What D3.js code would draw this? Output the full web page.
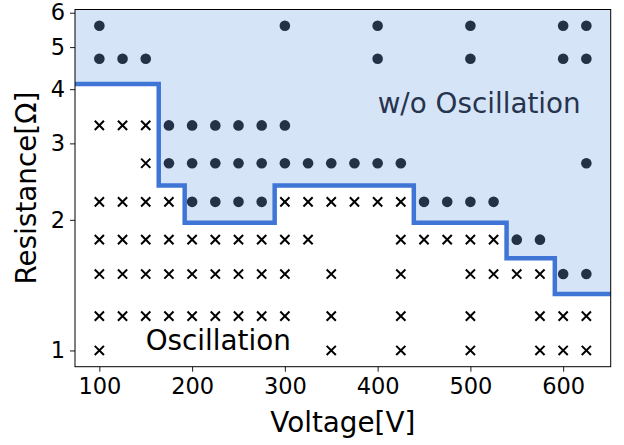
<!DOCTYPE html>
<html>
<head>
<meta charset="utf-8">
<script src="https://cdn.jsdelivr.net/npm/d3@7"></script>
<style>
  html, body { margin: 0; padding: 0; background: #fff; }
  svg { display: block; font-family: "DejaVu Sans", sans-serif; }
</style>
</head>
<body>
<svg id="chart" width="624" height="445"></svg>
<script>
// Measured operating points: each row is one resistance setting,
// listing the voltages that oscillated and those that stayed stable.
const xTicks = [100, 200, 300, 400, 500, 600];
const yTicks = [1, 2, 3, 4, 5, 6];

const oscillationRows = [
  { r: 3.3, v: [100, 125, 150] },
  { r: 2.7, v: [150] },
  { r: 2.2, v: [100, 125, 150, 175, 300, 325, 350, 375, 400, 425] },
  { r: 1.8, v: [100, 125, 150, 175, 200, 225, 250, 275, 300, 325, 425, 450, 475, 500, 525] },
  { r: 1.5, v: [100, 125, 150, 175, 200, 225, 250, 275, 300, 350, 425, 500, 525, 550, 575] },
  { r: 1.2, v: [100, 125, 150, 175, 200, 225, 250, 275, 300, 350, 425, 500, 575, 600, 625] },
  { r: 1.0, v: [100, 350, 425, 500, 575, 600, 625] }
];

const stableRows = [
  { r: 5.6, v: [100, 300, 400, 500, 600, 625] },
  { r: 4.7, v: [100, 125, 150, 400, 500, 600, 625] },
  { r: 3.3, v: [175, 200, 225, 250, 275, 300] },
  { r: 2.7, v: [175, 200, 225, 250, 275, 300, 325, 350, 375, 400, 425, 625] },
  { r: 2.2, v: [200, 225, 250, 275, 450, 475, 500, 525] },
  { r: 1.8, v: [550, 575] },
  { r: 1.5, v: [600, 625] }
];

// Stability boundary: step edges (voltage) and the resistance level of each step.
const boundaryEdges = [164, 192, 289, 439, 539, 591];
const boundaryLevels = [4.11, 2.40, 1.97, 2.40, 1.97, 1.63, 1.35];

const xDomain = [73.75, 651.25];
const yDomain = [Math.pow(10, -0.0374), Math.pow(10, 0.7856)];

const svg = d3.select("#chart");
const plotLeft = 75, plotRight = 610.7, plotTop = 9.5, plotBottom = 366.7;

const x = d3.scaleLinear().domain(xDomain).range([plotLeft, plotRight]);
const y = d3.scaleLog().domain(yDomain).range([plotBottom, plotTop]);

svg.append("defs").append("clipPath").attr("id", "plot-clip")
  .append("rect")
  .attr("x", plotLeft).attr("y", plotTop)
  .attr("width", plotRight - plotLeft).attr("height", plotBottom - plotTop);

// Boundary as a list of step points spanning the full voltage range.
const stepPts = [[xDomain[0] - 5, boundaryLevels[0]]];
boundaryEdges.forEach((e, i) => stepPts.push([e, boundaryLevels[i + 1]]));
stepPts.push([xDomain[1] + 5, boundaryLevels[boundaryLevels.length - 1]]);

const plot = svg.append("g").attr("clip-path", "url(#plot-clip)");

// Region without oscillation (above the boundary)
plot.append("path")
  .datum(stepPts)
  .attr("fill", "#d6e4f8")
  .attr("d", d3.area()
    .curve(d3.curveStepAfter)
    .x(d => x(d[0]))
    .y0(plotTop - 5)
    .y1(d => y(d[1])));

// Boundary line
plot.append("path")
  .datum(stepPts)
  .attr("fill", "none")
  .attr("stroke", "#3f76d6")
  .attr("stroke-width", 4.5)
  .attr("d", d3.line()
    .curve(d3.curveStepAfter)
    .x(d => x(d[0]))
    .y(d => y(d[1])));

// Stable points: filled circles
const stablePts = stableRows.flatMap(row => row.v.map(v => [v, row.r]));
plot.append("g").selectAll("circle")
  .data(stablePts)
  .join("circle")
  .attr("cx", d => x(d[0]))
  .attr("cy", d => y(d[1]))
  .attr("r", 5.3)
  .attr("fill", "#243248");

// Oscillating points: x markers
const oscPts = oscillationRows.flatMap(row => row.v.map(v => [v, row.r]));
const s = 4.6;
plot.append("g").selectAll("path")
  .data(oscPts)
  .join("path")
  .attr("transform", d => `translate(${x(d[0])},${y(d[1])})`)
  .attr("d", `M${-s},${-s}L${s},${s}M${-s},${s}L${s},${-s}`)
  .attr("stroke", "#000")
  .attr("stroke-width", 2);

// Region labels
svg.append("text")
  .attr("x", x(400)).attr("y", y(3.52))
  .attr("font-size", 27.8)
  .attr("fill", "#27344d")
  .text("w/o Oscillation");

svg.append("text")
  .attr("x", x(150)).attr("y", y(1.0))
  .attr("font-size", 27.8)
  .attr("fill", "#000")
  .text("Oscillation");

// Axes
const xAxis = svg.append("g")
  .attr("transform", `translate(0,${plotBottom})`)
  .call(d3.axisBottom(x).tickValues(xTicks).tickSize(5).tickPadding(6).tickFormat(d3.format("d")));
const yAxis = svg.append("g")
  .attr("transform", `translate(${plotLeft},0)`)
  .call(d3.axisLeft(y).tickValues(yTicks).tickSize(5).tickPadding(5).tickFormat(d3.format("d")));

[xAxis, yAxis].forEach(g => {
  g.select(".domain").remove();
  g.selectAll(".tick line").attr("stroke", "#000").attr("stroke-width", 0.9);
  g.selectAll(".tick text")
    .attr("font-family", "DejaVu Sans, sans-serif")
    .attr("font-size", 22.5)
    .attr("fill", "#000");
});

// Frame
svg.append("rect")
  .attr("x", plotLeft).attr("y", plotTop)
  .attr("width", plotRight - plotLeft).attr("height", plotBottom - plotTop)
  .attr("fill", "none")
  .attr("stroke", "#000")
  .attr("stroke-width", 1);

// Axis titles
svg.append("text")
  .attr("x", (plotLeft + plotRight) / 2).attr("y", 432)
  .attr("text-anchor", "middle")
  .attr("font-size", 27.8)
  .text("Voltage[V]");

svg.append("text")
  .attr("transform", `translate(36,${(plotTop + plotBottom) / 2}) rotate(-90)`)
  .attr("text-anchor", "middle")
  .attr("font-size", 27.8)
  .text("Resistance[Ω]");
</script>
</body>
</html>
